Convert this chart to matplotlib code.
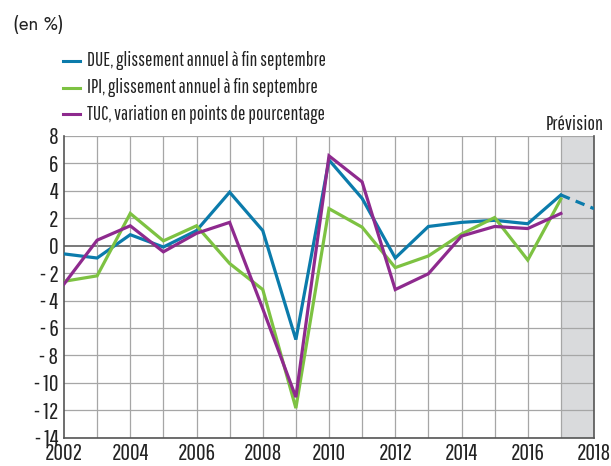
import matplotlib
matplotlib.use('Agg')
import matplotlib.pyplot as plt
import numpy as np

plt.rcParams['font.family'] = ['Pathway Gothic One', 'Roboto Condensed', 'DejaVu Sans']

years = list(range(2002, 2018))
due = [-0.6, -0.9, 0.8, -0.1, 1.1, 3.9, 1.1, -6.85, 6.25, 3.45, -0.9, 1.4, 1.7, 1.85, 1.6, 3.7]
ipi = [-2.6, -2.2, 2.35, 0.35, 1.45, -1.3, -3.2, -11.85, 2.7, 1.35, -1.6, -0.75, 0.85, 2.05, -1.05, 3.4]
tuc = [-2.8, 0.4, 1.45, -0.45, 0.9, 1.7, -4.6, -11.05, 6.55, 4.65, -3.2, -2.05, 0.7, 1.4, 1.25, 2.35]
due_prev_years = [2017, 2018]
due_prev = [3.7, 2.7]

yticks = list(range(-14, 9, 2))
ytick_labels = [str(v) if v >= 0 else '- ' + str(-v) for v in yticks]
xticks = list(range(2002, 2019, 2))

BLUE = '#0b7bab'
GREEN = '#7dc242'
PURPLE = '#8e2a8e'
GRID = '#a6a6a6'

fig = plt.figure(figsize=(6.11, 4.66), dpi=100)
ax = fig.add_axes([64 / 611, 28.4 / 466, 530 / 611, 301.6 / 466])

# forecast zone
ax.axvspan(2017, 2018, color='#d9dadc', zorder=0, lw=0)
for y in yticks:
    ax.axhline(y, color='#555555' if y == 0 else GRID, lw=1.1 if y == 0 else 0.9, zorder=1)
for x in range(2003, 2018):
    ax.axvline(x, color=GRID, lw=0.9, zorder=1)

lw = 2.3
ax.plot(years, due, color=BLUE, lw=lw, zorder=3, solid_joinstyle='miter')
ax.plot(years, ipi, color=GREEN, lw=lw, zorder=3, solid_joinstyle='miter')
ax.plot(years, tuc, color=PURPLE, lw=lw, zorder=4, solid_joinstyle='miter')
ax.plot(due_prev_years, due_prev, color=BLUE, lw=lw, ls=(0, (3, 2)), zorder=3)

ax.set_xlim(2002, 2018)
ax.set_ylim(-14, 8)
ax.set_yticks(yticks)
ax.set_yticklabels(ytick_labels)
ax.set_xticks(xticks)
ax.set_xticklabels([str(x) for x in xticks])
ax.tick_params(length=0, labelsize=17, colors='#222222', pad=4)
ax.spines['top'].set_visible(False)
for s in ['left', 'bottom', 'right']:
    ax.spines[s].set_color('#555555')
    ax.spines[s].set_linewidth(1.2)

# header and legend
fig.text(13 / 611, 1 - 25 / 466, '(en %)', fontsize=13.5, family=['Jost', 'DejaVu Sans'],
         va='center', ha='left', color='#222222')
entries = [('DUE, glissement annuel à fin septembre', BLUE),
           ('IPI, glissement annuel à fin septembre', GREEN),
           ('TUC, variation en points de pourcentage', PURPLE)]
for i, (lab, col) in enumerate(entries):
    yy = 1 - (61 + i * 26.5) / 466
    fig.add_artist(plt.Line2D([63 / 611, 80 / 611], [yy, yy], color=col, lw=2.2))
    fig.text(87 / 611, yy, lab, fontsize=14, va='center', ha='left', color='#222222')

fig.text(604 / 611, 1 - 125 / 466, 'Prévision', fontsize=14.5, va='center', ha='right',
         color='#222222')

fig.savefig('out.png', dpi=100)
